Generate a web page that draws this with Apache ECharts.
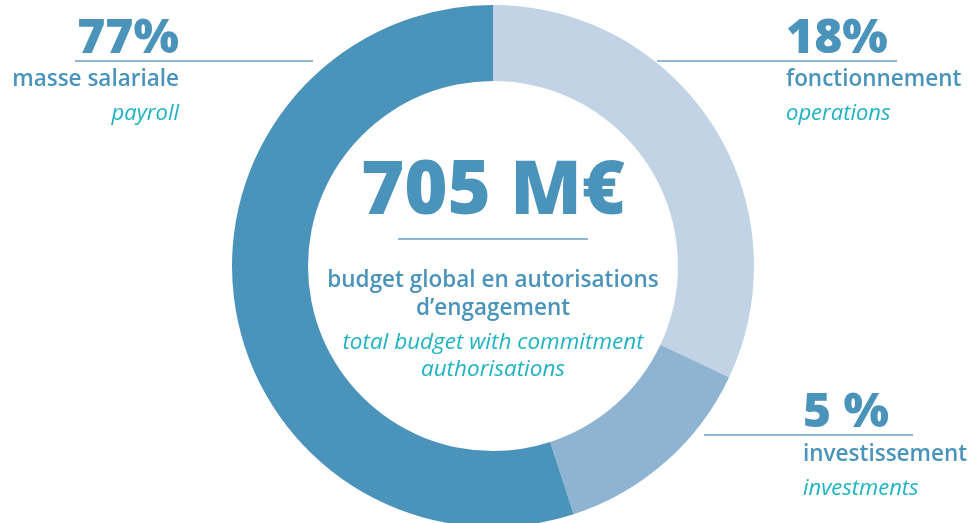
<!DOCTYPE html>
<html>
<head>
<meta charset="utf-8">
<script src="https://cdn.jsdelivr.net/npm/echarts@6/dist/echarts.min.js"></script>
<style>html,body{margin:0;padding:0;background:#fff}#c{width:969px;height:523px}</style>
</head>
<body>
<div id="c"></div>
<script>
// Slices in clockwise order from 12 o'clock (visual shares)
const categories = ['fonctionnement', 'investissement', 'masse salariale'];
const translations = ['operations', 'investments', 'payroll'];
const sliceShares = [32, 13, 55];
const percentLabels = ['18%', '5 %', '77%'];
const sliceColors = ['#c1d3e5', '#8eb4d1', '#4a94bb'];
const totalLabel = '705 M€';
const centerLines = ['budget global en autorisations', 'd\u2019engagement'];
const centerLinesEn = ['total budget with commitment', 'authorisations'];

const BLUE = '#4a94bb', TEAL = '#1fb3c4', LINE = '#6aa3c8';
const FONT = '"Open Sans", "Noto Sans", sans-serif';

function txt(x, y, s, size, weight, color, align, italic) {
  return { type: 'text', x: x, y: y, silent: true,
    style: { text: s, fontFamily: FONT, fontSize: size, fontWeight: weight, fontStyle: italic ? 'italic' : 'normal',
      fill: color, textAlign: align, textVerticalAlign: 'middle' } };
}
function hline(x1, x2, y) {
  return { type: 'line', silent: true, shape: { x1: x1, y1: y, x2: x2, y2: y }, style: { stroke: LINE, lineWidth: 1.5 } };
}

const chart = echarts.init(document.getElementById('c'), null, { renderer: 'canvas' });
chart.setOption({
  animation: false,
  series: [{
    type: 'pie', silent: true,
    center: [493, 266], radius: [185, 261],
    startAngle: 90, clockwise: true,
    label: { show: false }, labelLine: { show: false },
    data: categories.map((c, i) => ({ name: c, value: sliceShares[i], itemStyle: { color: sliceColors[i] } }))
  }],
  graphic: [
    // left: masse salariale
    txt(179, 39, percentLabels[2], 48, 800, BLUE, 'right'),
    hline(75, 313, 61),
    txt(179, 80, categories[2], 22.5, 600, BLUE, 'right'),
    txt(179, 114, translations[2], 22, 'normal', TEAL, 'right', true),
    // right top: fonctionnement
    txt(786, 39, percentLabels[0], 48, 800, BLUE, 'left'),
    hline(657, 897, 61),
    txt(786, 80, categories[0], 22.5, 600, BLUE, 'left'),
    txt(786, 114, translations[0], 22, 'normal', TEAL, 'left', true),
    // right bottom: investissement
    txt(803, 413, percentLabels[1], 48, 800, BLUE, 'left'),
    hline(704, 913, 435),
    txt(803, 455, categories[1], 22.5, 600, BLUE, 'left'),
    txt(803, 489, translations[1], 22, 'normal', TEAL, 'left', true),
    // center
    txt(493, 193, totalLabel, 74, 800, BLUE, 'center'),
    hline(398, 588, 239),
    txt(493, 281, centerLines[0], 22.5, 600, BLUE, 'center'),
    txt(493, 309, centerLines[1], 22.5, 600, BLUE, 'center'),
    txt(493, 343, centerLinesEn[0], 22.5, 'normal', TEAL, 'center', true),
    txt(493, 370, centerLinesEn[1], 22.5, 'normal', TEAL, 'center', true)
  ]
});
</script>
</body>
</html>
